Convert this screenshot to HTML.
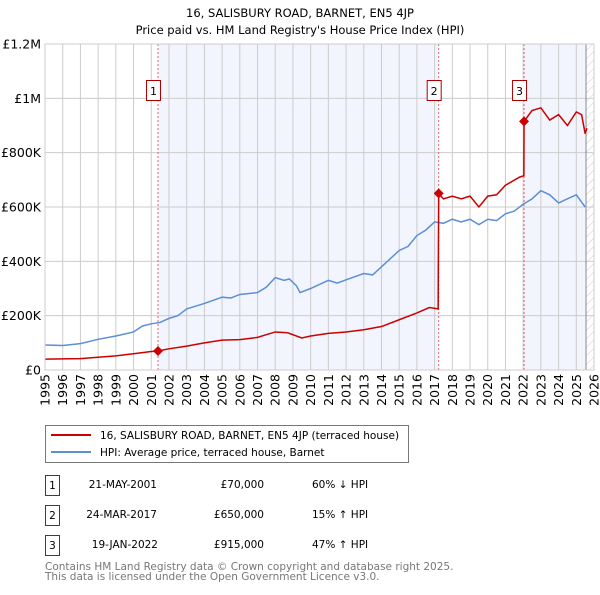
<!DOCTYPE html>
<html><head><meta charset="utf-8"><style>
body{margin:0;background:#fff;font-family:"Liberation Sans","DejaVu Sans",sans-serif;}
svg text{font-family:"DejaVu Sans","Liberation Sans",sans-serif;}
</style></head><body>
<svg id="chart" width="600" height="590" xmlns="http://www.w3.org/2000/svg">
<defs><pattern id="hatch" width="6" height="6" patternUnits="userSpaceOnUse" patternTransform="rotate(45)"><line x1="0" y1="0" x2="0" y2="6" stroke="#ccc" stroke-width="1"/></pattern></defs>
<text x="300" y="17" text-anchor="middle" font-size="11.5">16, SALISBURY ROAD, BARNET, EN5 4JP</text>
<text x="300" y="34" text-anchor="middle" font-size="11.5">Price paid vs. HM Land Registry's House Price Index (HPI)</text>
<g id="plot"></g>
<g>
<rect x="45.5" y="425.5" width="363" height="37" fill="#fff" stroke="#777"/>
<line x1="51" y1="435" x2="91" y2="435" stroke="#cc0000" stroke-width="2"/>
<text x="100" y="439" font-size="10.5">16, SALISBURY ROAD, BARNET, EN5 4JP (terraced house)</text>
<line x1="51" y1="452" x2="91" y2="452" stroke="#5b8fd6" stroke-width="2"/>
<text x="100" y="456" font-size="10.5">HPI: Average price, terraced house, Barnet</text>
</g>
<g font-size="10.5">
<rect x="45.5" y="475.5" width="14" height="20" fill="#fff" stroke="#cc0000"/><text x="52.5" y="489" text-anchor="middle">1</text>
<text x="157" y="488" text-anchor="end">21-MAY-2001</text><text x="264" y="488" text-anchor="end">£70,000</text><text x="312" y="488">60% ↓ HPI</text>
<rect x="45.5" y="505.5" width="14" height="20" fill="#fff" stroke="#cc0000"/><text x="52.5" y="519" text-anchor="middle">2</text>
<text x="157" y="518" text-anchor="end">24-MAR-2017</text><text x="264" y="518" text-anchor="end">£650,000</text><text x="312" y="518">15% ↑ HPI</text>
<rect x="45.5" y="535.5" width="14" height="20" fill="#fff" stroke="#cc0000"/><text x="52.5" y="549" text-anchor="middle">3</text>
<text x="158" y="548" text-anchor="end">19-JAN-2022</text><text x="264" y="548" text-anchor="end">£915,000</text><text x="312" y="548">47% ↑ HPI</text>
</g>
<text x="45" y="570" font-size="10.5" fill="#777">Contains HM Land Registry data © Crown copyright and database right 2025.</text>
<text x="45" y="580" font-size="10.5" fill="#777">This data is licensed under the Open Government Licence v3.0.</text>
</svg>
<script>
const hpiYears=[1995,1996,1997,1998,1999,2000,2000.5,2001,2001.5,2002,2002.5,2003,2004,2005,2005.5,2006,2007,2007.5,2008,2008.5,2008.8,2009.2,2009.4,2010,2011,2011.5,2012,2013,2013.5,2014,2015,2015.5,2016,2016.5,2017,2017.5,2018,2018.5,2019,2019.5,2020,2020.5,2021,2021.5,2022,2022.5,2023,2023.5,2024,2024.5,2025,2025.5];
const hpiValues=[92,90,97,113,125,140,162,170,175,190,200,225,245,268,265,278,285,305,340,330,335,310,285,300,330,320,332,355,350,380,440,455,495,515,545,540,555,545,555,535,555,550,575,585,610,630,660,645,615,630,645,600];
const priceYears=[1995,1997,1998,1999,2000,2001,2001.38,2002,2003,2004,2005,2006,2007,2008,2008.7,2009.5,2010,2011,2012,2013,2014,2015,2016,2016.7,2017.2,2017.23,2017.5,2018,2018.5,2019,2019.5,2020,2020.5,2021,2021.8,2022.04,2022.05,2022.5,2023,2023.5,2024,2024.5,2025,2025.3,2025.5,2025.6];
const priceValues=[40,42,47,52,60,68,70,78,88,100,110,112,120,140,137,118,125,135,140,148,160,185,210,230,225,650,630,640,630,640,600,640,645,680,710,715,915,955,965,920,940,900,950,940,870,890];
const saleLabels=["1","2","3"];
const saleYears=[2001.38,2017.23,2022.05];
const saleValues=[70,650,915];
const yTicks=[0,200,400,600,800,1000,1200];
const yTickLabels=["£0","£200K","£400K","£600K","£800K","£1M","£1.2M"];
const xTicks=[1995,1996,1997,1998,1999,2000,2001,2002,2003,2004,2005,2006,2007,2008,2009,2010,2011,2012,2013,2014,2015,2016,2017,2018,2019,2020,2021,2022,2023,2024,2025,2026];
const L=45,R=594,T=44,B=370,X0=1995,X1=2026,YMAX=1200,dataEnd=2025.55;
const sx=v=>L+(v-X0)/(X1-X0)*(R-L);
const sy=v=>B-v/YMAX*(B-T);
const NS="http://www.w3.org/2000/svg";
const g=document.getElementById('plot');
function mk(t,a){const e=document.createElementNS(NS,t);for(const k in a)e.setAttribute(k,a[k]);g.appendChild(e);return e;}
let e;
e=mk('rect',{x:sx(saleYears[0]),y:T,width:sx(saleYears[1])-sx(saleYears[0]),height:B-T,fill:'#f2f5fd'});


e=mk('rect',{x:sx(saleYears[2]),y:T,width:sx(dataEnd)-sx(saleYears[2]),height:B-T,fill:'#f2f5fd'});


e=mk('rect',{x:sx(dataEnd),y:T,width:R-sx(dataEnd),height:B-T,fill:'url(#hatch)'});


xTicks.forEach(t=>{e=mk('line',{x1:sx(t),x2:sx(t),y1:T,y2:B,stroke:'#cccccc'});


e=mk('text',{x:0,y:0,'font-size':12.5,'text-anchor':'end',transform:`translate(${sx(t)+4.5},${B+4}) rotate(-90)`});e.textContent=t;

});
yTicks.forEach((t,i)=>{e=mk('line',{x1:L,x2:R,y1:sy(t),y2:sy(t),stroke:'#cccccc'});


e=mk('text',{x:L-4,y:sy(t)+4.5,'font-size':12.5,'text-anchor':'end'});e.textContent=yTickLabels[i];

});
e=mk('line',{x1:sx(dataEnd),x2:sx(dataEnd),y1:T,y2:B,stroke:'#888'});


saleYears.forEach(y=>{e=mk('line',{x1:sx(y),x2:sx(y),y1:T,y2:B,stroke:'#e06666','stroke-dasharray':'2,2'});

});
e=mk('polyline',{points:hpiYears.map((y,i)=>sx(y)+','+sy(hpiValues[i])).join(' '),fill:'none',stroke:'#5b8fd6','stroke-width':1.5});


e=mk('polyline',{points:priceYears.map((y,i)=>sx(y)+','+sy(priceValues[i])).join(' '),fill:'none',stroke:'#cc0000','stroke-width':1.5});


saleYears.forEach((y,i)=>{const cx=sx(y),cy=sy(saleValues[i]);
e=mk('path',{d:`M${cx},${cy-5}L${cx+5},${cy}L${cx},${cy+5}L${cx-5},${cy}Z`,fill:'#cc0000'});


e=mk('rect',{x:cx-11.5,y:80.5,width:14,height:20,fill:'#fff',stroke:'#aa0000'});


e=mk('text',{x:cx-4.5,y:95,'font-size':11,'text-anchor':'middle'});e.textContent=saleLabels[i];

});
e=mk('rect',{x:L,y:T,width:R-L,height:B-T,fill:'none',stroke:'#cccccc'});


</script>
</body></html>
